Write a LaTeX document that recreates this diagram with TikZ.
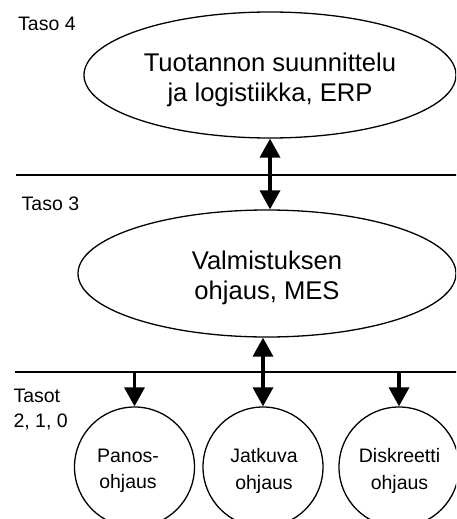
\documentclass[tikz,border=0pt]{standalone}
\usepackage{fontspec}
\setmainfont{Liberation Sans}
\usetikzlibrary{arrows.meta,shapes.geometric}

\begin{document}
\begin{tikzpicture}[x=1pt,y=-1pt,
  levelbox/.style={ellipse,draw,line width=1.3pt,inner sep=0pt,
                   minimum width=372pt,minimum height=126pt},
  ctrlbox/.style={circle,draw,line width=1.3pt,inner sep=0pt,minimum size=120pt},
  bigtext/.style={align=center,inner sep=0pt,
                  font=\fontsize{25.6}{30}\selectfont},
  smalltext/.style={align=center,inner sep=0pt,
                    font=\fontsize{19.5}{26.5}\selectfont},
  leveltext/.style={align=left,inner sep=0pt,
                    font=\fontsize{19.5}{25}\selectfont},
  divider/.style={line width=1.7pt},
  flow/.style={line width=3.5pt,-{Triangle[width=20pt,length=19pt]}},
  bothflow/.style={line width=3.5pt,
    {Triangle[width=20pt,length=19pt]}-{Triangle[width=20pt,length=19pt]}}]

\useasboundingbox (0,0) rectangle (456,519);
\clip (0,0) rectangle (456,519);
\fill[white] (0,0) rectangle (456,519);

% level dividers
\coordinate (d1a) at (16,175);
\coordinate (d1b) at (460,175);
\coordinate (d2a) at (15,372);
\coordinate (d2b) at (460,372);
\draw[divider] (d1a) -- (d1b);
\draw[divider] (d2a) -- (d2b);

% level labels
\node[leveltext,anchor=base west] (t4) at (18,30.7) {Taso 4};
\node[leveltext,anchor=base west] (t3) at (21.5,210.7) {Taso 3};
\node[leveltext,anchor=north west] (t2) at (13.3,388.7) {Tasot\\2, 1, 0};

% level 4
\node[levelbox] (erp) at (270,75) {};
\node[bigtext] (erptext) at (270,80) {Tuotannon suunnittelu\\ja logistiikka, ERP};

% level 3
\node[levelbox,minimum width=378pt,minimum height=127pt] (mes) at (267,273.5) {};
\node[bigtext] (mestext) at (267,277.5) {Valmistuksen\\ohjaus, MES};

% levels 2, 1, 0
\node[ctrlbox] (pan) at (134.5,467) {};
\node[ctrlbox] (jat) at (263,467) {};
\node[ctrlbox] (dis) at (399,467) {};
\node[smalltext] (pantext) at (128,471) {Panos-\\ohjaus};
\node[smalltext] (jattext) at (264,471) {Jatkuva\\ohjaus};
\node[smalltext] (distext) at (399.5,471) {Diskreetti\\ohjaus};

% connectors
\coordinate (panin) at (pan.north |- d2a);
\coordinate (disin) at (dis.north |- d2a);
\draw[bothflow] (erp.south) -- (erp.south |- mes.north);
\draw[bothflow] (jat.north |- mes.south) -- (jat.north);
\draw[flow] (panin) -- (pan.north);
\draw[flow] (disin) -- (dis.north);
\end{tikzpicture}
\end{document}
